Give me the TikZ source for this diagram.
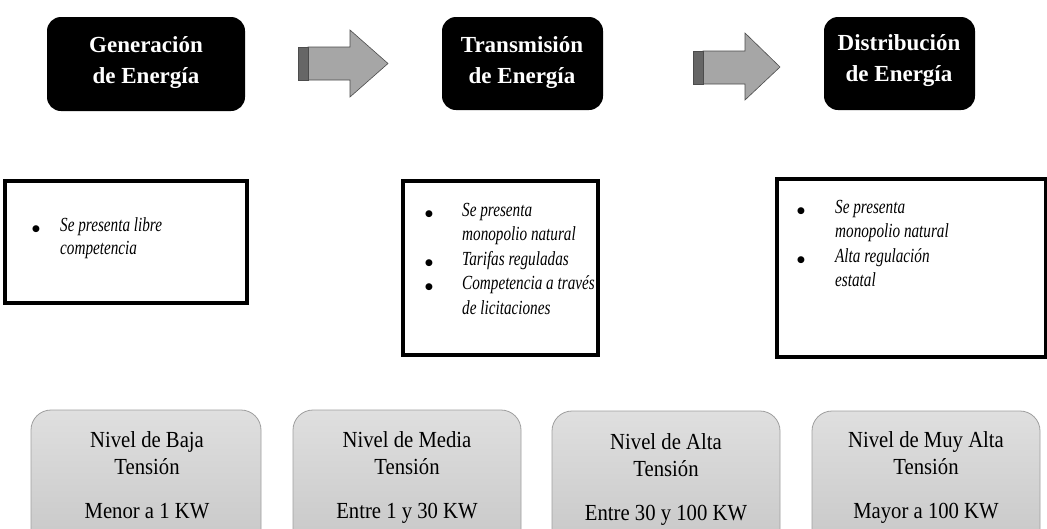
\documentclass[tikz,border=0pt]{standalone}
\usepackage{fontspec}
\setmainfont{Liberation Serif}
\newfontfamily\itemfont{Liberation Serif}[FakeStretch=0.76]
\newfontfamily\levelfont{Liberation Serif}[FakeStretch=0.9]
\newfontfamily\bulletfont{DejaVu Sans}
\newcommand{\bul}{{\bulletfont\fontsize{9}{9}\selectfont ●}}
\begin{document}
\begin{tikzpicture}[x=1pt,y=-1pt,
  stage/.style={fill=black,rounded corners=14pt},
  stagetext/.style={text=white,font=\fontsize{23}{31}\selectfont\bfseries,align=center,anchor=north,inner sep=0pt},
  infobox/.style={draw=black,line width=3.2pt},
  level/.style={draw=gray!75,line width=0.8pt,rounded corners=20pt,top color=gray!25,bottom color=gray!45},
  leveltext/.style={font=\levelfont\fontsize{23}{27}\selectfont,align=center,anchor=north,inner sep=0pt},
  blockarrow/.style={fill=gray!70,draw=black!70,line width=0.6pt},
  arrowtail/.style={fill=black!60,draw=black!70,line width=0.6pt},
  items/.style={anchor=north west,inner sep=0pt,font=\itemfont\fontsize{20}{24.5}\selectfont}
]
\clip (0,0) rectangle (1047,528);
\fill[white] (0,0) rectangle (1047,528);
% stage boxes
\fill[stage] (47,17) rectangle (245,111);
\node[stagetext] (gen) at (146,36) {Generación\\de Energía};
\fill[stage] (442,17) rectangle (603,110);
\node[stagetext] (tra) at (522,36) {Transmisión\\de Energía};
\fill[stage] (824,17) rectangle (975,110);
\node[stagetext] (dis) at (899,34) {Distribución\\de Energía};
% block arrows
\path[blockarrow] (308,47) -- (350,47) -- (350,30) -- (388,63.5) -- (350,97) -- (350,80) -- (308,80) -- cycle;
\path[arrowtail] (298,47) rectangle (308,80);
\path[blockarrow] (703,51) -- (745,51) -- (745,33) -- (780,67) -- (745,100) -- (745,84) -- (703,84) -- cycle;
\path[arrowtail] (693,51) rectangle (703,84);
% info boxes
\draw[infobox] (5,181) rectangle (247,303);
\node[items] (ia) at (32,214) {\begin{tabular}{@{}p{28pt}@{}l@{}}
\bul&\textit{Se presenta libre}\\[-1.5pt]
 &\textit{competencia}
\end{tabular}};
\draw[infobox] (403,181) rectangle (598,355);
\node[items] (ib) at (425,199) {\begin{tabular}{@{}p{37pt}@{}l@{}}
\bul&\textit{Se presenta}\\
 &\textit{monopolio natural}\\
\bul&\textit{Tarifas reguladas}\\
\bul&\textit{Competencia a través}\\
 &\textit{de licitaciones}
\end{tabular}};
\draw[infobox] (777,179) rectangle (1046,357);
\node[items] (ic) at (797,196) {\begin{tabular}{@{}p{38pt}@{}l@{}}
\bul&\textit{Se presenta}\\
 &\textit{monopolio natural}\\
\bul&\textit{Alta regulación}\\
 &\textit{estatal}
\end{tabular}};
% level boxes
\path[level] (31,410) rectangle (261,560);
\node[leveltext] (l1) at (147,431) {Nivel de Baja\\Tensión\\[17pt]Menor a 1 KW};
\path[level] (293,410) rectangle (521,560);
\node[leveltext] (l2) at (407,431) {Nivel de Media\\Tensión\\[17pt]Entre 1 y 30 KW};
\path[level] (552,411) rectangle (780,560);
\node[leveltext] (l3) at (666,433) {Nivel de Alta\\Tensión\\[17pt]Entre 30 y 100 KW};
\path[level] (812,411) rectangle (1040,560);
\node[leveltext] (l4) at (926,431) {Nivel de Muy Alta\\Tensión\\[17pt]Mayor a 100 KW};
\end{tikzpicture}
\end{document}
